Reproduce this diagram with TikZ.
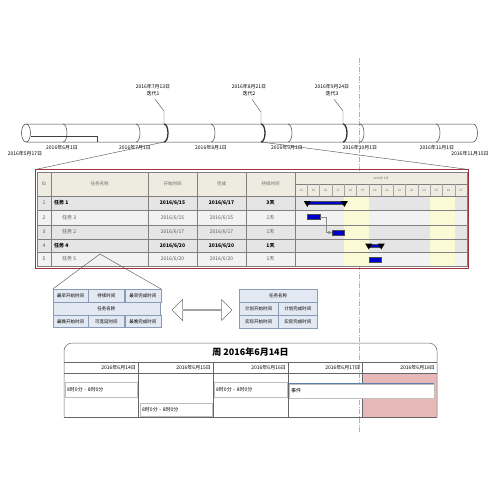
\documentclass[tikz,border=0pt]{standalone}
\usepackage{fontspec}
\setmainfont{Noto Sans CJK SC}
\usetikzlibrary{arrows,positioning,shapes.arrows}
\definecolor{frame}{HTML}{A3343F}
\definecolor{headbg}{HTML}{EEECE1}
\definecolor{rowbg}{HTML}{E5E5E5}
\definecolor{wkend}{HTML}{FBFAD6}
\definecolor{barblue}{HTML}{0000CC}
\definecolor{netbg}{HTML}{E3E9F2}
\definecolor{netline}{HTML}{8A9BB5}
\definecolor{offday}{HTML}{E6B9B8}
\definecolor{evline}{HTML}{5C7FAE}

\begin{document}
\begin{tikzpicture}[x=1pt,y=-1pt,>=stealth',
  every node/.style={inner sep=0pt,font=\fontsize{5}{6}\selectfont},
  tl/.style={line width=0.5pt,draw=black!75},
  ms/.style={line width=1.3pt,draw=black!80},
  lead/.style={line width=0.4pt,draw=black!70},
  hd/.style={text=black!60,font=\fontsize{4.5}{5}\selectfont},
  tiny/.style={text=black!55,font=\fontsize{3}{4}\selectfont},
  bd/.style={font=\bfseries\fontsize{5}{6}\selectfont},
  nm/.style={text=black!65},
  bar/.style={draw=black!70,fill=barblue,line width=0.3pt,minimum height=5pt,anchor=west},
  sbar/.style={draw=black!70,fill=barblue,line width=0.3pt,minimum height=3pt,anchor=west},
  lk/.style={draw=black!45,line width=0.4pt,->},
  cell/.style={draw=netline,fill=netbg,line width=0.4pt,minimum height=12.7pt,font=\fontsize{4.5}{5}\selectfont},
  ev/.style={draw=black!25,fill=white,anchor=north west,minimum height=15pt,inner xsep=2pt,align=left,text width=#1}
]
\useasboundingbox (0,0) rectangle (500,500);
\fill[white] (0,0) rectangle (500,500);

% timeline
\draw[black!30,line width=0.4pt,dash pattern=on 5pt off 1.5pt on 1pt off 1.5pt] (359,58) coordinate (cuttop) -- (359,432) coordinate (cutbot);
\draw[tl] (26,133) ellipse (4.5pt and 9pt);
\draw[tl] (26,124) -- (473,124) arc (90:-90:4.5pt and 9pt) -- (26,142);
\draw[tl] (31,136) -- (97,136) -- (97,142);
\draw[tl] (63,124) arc (90:-90:4pt and 9pt);
\draw[tl] (136,124) arc (90:-90:4pt and 9pt);
\draw[tl] (211,124) arc (90:-90:4pt and 9pt);
\draw[tl] (288,124) arc (90:-90:4pt and 9pt);
\draw[tl] (360,124) arc (90:-90:4pt and 9pt);
\draw[tl] (436,124) arc (90:-90:4pt and 9pt);
\draw[ms] (164,124) coordinate (ms1t) arc (90:-90:4pt and 9pt) coordinate (ms1b);
\draw[ms] (261,124) coordinate (ms2t) arc (90:-90:4pt and 9pt) coordinate (ms2b);
\draw[ms] (343,124) coordinate (ms3t) arc (90:-90:4pt and 9pt) coordinate (ms3b);

\node (t0) at (25,154) {2016年5月17日};
\node (t1) at (62,148) {2016年6月1日};
\node (t2) at (135,148) {2016年7月1日};
\node (t3) at (211,148) {2016年8月1日};
\node (t4) at (287,148) {2016年9月1日};
\node (t5) at (360,148) {2016年10月1日};
\node (t6) at (437,148) {2016年11月1日};
\node (t7) at (470,154) {2016年11月15日};

\node[align=center,font=\fontsize{5}{7.5}\selectfont] (m1) at (153,90) {2016年7月13日\\迭代1};
\node[align=center,font=\fontsize{5}{7.5}\selectfont] (m2) at (249,90) {2016年8月21日\\迭代2};
\node[align=center,font=\fontsize{5}{7.5}\selectfont] (m3) at (332,90) {2016年9月24日\\迭代3};
\draw[lead] (m1.south) ++(2,3) -- (164,111) -- (ms1t);
\draw[lead] (m2.south) ++(3,3) -- (261,112) -- (ms2t);
\draw[lead] (m3.south) ++(2,3) -- (343,111) -- (ms3t);

% task table
\fill[headbg] (37,172) rectangle (467,196);
\fill[rowbg] (37,196) rectangle (467,266);
\fill[white!50!rowbg] (37,210) rectangle (467,225);
\fill[white!50!rowbg] (37,252) rectangle (467,266);
\fill[wkend] (344.1,196) rectangle (368.7,266);
\fill[wkend] (430.1,196) rectangle (454.7,266);
\draw[black!50,line width=0.4pt] (37,196) -- (467,196) (37,210) -- (467,210) (37,225) -- (467,225)
  (37,239) -- (467,239) (37,252) -- (467,252) (295,184) -- (467,184);
\draw[black!50,line width=0.4pt] (51,172) -- (51,266) (148,172) -- (148,266) (197,172) -- (197,266)
  (246,172) -- (246,266) (295,172) -- (295,266);
\foreach \d [count=\i] in {14,...,27} {
  \draw[black!35,line width=0.3pt] (295+\i*12.2857,184) -- (295+\i*12.2857,196);
  \node[tiny] (day\d) at (295+\i*12.2857-6.14,190) {\d};
}
\draw[black!50,line width=0.4pt] (37,172) rectangle (467,266);
\draw[frame,line width=1.6pt] (35.5,169.5) coordinate (tabnw) rectangle (468.5,268.5);
\coordinate (tabne) at (468.5,169.5);
\draw[lead] (ms1b) -- (tabnw);
\draw[lead] (ms2b) -- (tabne);

\node[hd] (hid) at (44,184) {ID};
\node[hd] (hname) at (99.5,184) {任务名称};
\node[hd] (hstart) at (172.5,184) {开始时间};
\node[hd] (hfin) at (221.5,184) {完成};
\node[hd] (hdur) at (270.5,184) {持续时间};
\node[tiny] (hmon) at (381,178) {2016年 6月};

\node[nm] (id1) at (44,203) {1};
\node[bd,anchor=west] (n1) at (54,203) {任务 1};
\node[bd] (s1) at (172.5,203) {2016/6/15};
\node[bd] (f1) at (221.5,203) {2016/6/17};
\node[bd] (du1) at (270.5,203) {3天};

\node[nm] (id2) at (44,217.5) {2};
\node[nm,anchor=west] (n2) at (62,217.5) {任务 3};
\node[nm] (s2) at (172.5,217.5) {2016/6/15};
\node[nm] (f2) at (221.5,217.5) {2016/6/15};
\node[nm] (du2) at (270.5,217.5) {1天};

\node[nm] (id3) at (44,232) {3};
\node[nm,anchor=west] (n3) at (62,232) {任务 2};
\node[nm] (s3) at (172.5,232) {2016/6/17};
\node[nm] (f3) at (221.5,232) {2016/6/17};
\node[nm] (du3) at (270.5,232) {1天};

\node[nm] (id4) at (44,245.5) {4};
\node[bd,anchor=west] (n4) at (54,245.5) {任务 4};
\node[bd] (s4) at (172.5,245.5) {2016/6/20};
\node[bd] (f4) at (221.5,245.5) {2016/6/20};
\node[bd] (du4) at (270.5,245.5) {1天};

\node[nm] (id5) at (44,259) {5};
\node[nm,anchor=west] (n5) at (62,259) {任务 5};
\node[nm] (s5) at (172.5,259) {2016/6/20};
\node[nm] (f5) at (221.5,259) {2016/6/20};
\node[nm] (du5) at (270.5,259) {1天};

% gantt bars
\node[sbar,minimum width=36.8pt] (b1) at (307.3,203) {};
\fill (b1.west) ++(-3.5,-2) -- ++(7,0) -- ++(-3.5,6) -- cycle;
\fill (b1.east) ++(-3.5,-2) -- ++(7,0) -- ++(-3.5,6) -- cycle;
\node[bar,minimum width=12.3pt] (b2) at (307.3,217) {};
\node[bar,minimum width=12.3pt] (b3) at (331.9,232.5) {};
\node[sbar,minimum width=12.3pt] (b4) at (368.7,245.5) {};
\fill (b4.west) ++(-3.5,-2) -- ++(7,0) -- ++(-3.5,6) -- cycle;
\fill (b4.east) ++(-3.5,-2) -- ++(7,0) -- ++(-3.5,6) -- cycle;
\node[bar,minimum width=12.3pt] (b5) at (368.7,260) {};
\draw[lk] (b2.east) -- ++(6,0) |- (b3.west);

% network node legend
\node[cell,minimum width=35pt] (lt1) at (70.5,295.5) {最早开始时间};
\node[cell,minimum width=36pt,right=0pt of lt1] (lt2) {持续时间};
\node[cell,minimum width=36pt,right=0pt of lt2] (lt3) {最早完成时间};
\node[cell,minimum width=107pt,below=0pt of lt2] (lmid) {任务名称};
\node[cell,minimum width=35pt,below=12.7pt of lt1] (lb1) {最晚开始时间};
\node[cell,minimum width=36pt,right=0pt of lb1] (lb2) {可宽延时间};
\node[cell,minimum width=36pt,right=0pt of lb2] (lb3) {最晚完成时间};
\coordinate (fz) at (100,254);
\draw[lead] (lt1.north west) -- (fz) -- (lt3.north east);

\node[double arrow,draw=black!55,fill=white,line width=0.5pt,minimum height=60pt,minimum width=21pt,
  double arrow head extend=4.5pt] (swap) at (202,310) {};

\node[cell,minimum width=78pt] (rt) at (278,295.5) {任务名称};
\node[cell,minimum width=39pt,anchor=north west] (rm1) at (rt.south west) {计划开始时间};
\node[cell,minimum width=39pt,right=0pt of rm1] (rm2) {计划完成时间};
\node[cell,minimum width=39pt,below=0pt of rm1] (rb1) {实际开始时间};
\node[cell,minimum width=39pt,right=0pt of rb1] (rb2) {实际完成时间};

% week calendar
\fill[offday] (362,373) rectangle (437,417);
\draw[black!60,line width=0.5pt,rounded corners=8pt] (64,417) -- (64,343) -- (437,343) -- (437,417);
\draw[black!60,line width=0.5pt] (64,417) -- (437,417) (64,362) -- (437,362) (64,373) -- (437,373);
\draw[black!60,line width=0.5pt] (138,362) -- (138,417) (213,362) -- (213,417) (288,362) -- (288,417) (362,362) -- (362,417);
\node[font=\bfseries\fontsize{9}{10}\selectfont] (wk) at (250.5,352.5) {周 2016年6月14日};
\node[anchor=east] (c1) at (136,367.5) {2016年6月14日};
\node[anchor=east] (c2) at (211,367.5) {2016年6月15日};
\node[anchor=east] (c3) at (286,367.5) {2016年6月16日};
\node[anchor=east] (c4) at (360,367.5) {2016年6月17日};
\node[anchor=east] (c5) at (435,367.5) {2016年6月18日};

\node[ev=68pt] (ev1) at (65,382) {8时0分 - 8时0分};
\node[ev=68pt,minimum height=13pt] (ev2) at (140,402.5) {8时0分 - 8时0分};
\node[ev=69pt] (ev3) at (214,382) {8时0分 - 8时0分};
\node[ev=141pt,minimum height=14pt] (ev4) at (289,383.5) {事件};
\draw[evline,line width=1.6pt] (ev4.north west) -- (ev4.north east);
\end{tikzpicture}
\end{document}
